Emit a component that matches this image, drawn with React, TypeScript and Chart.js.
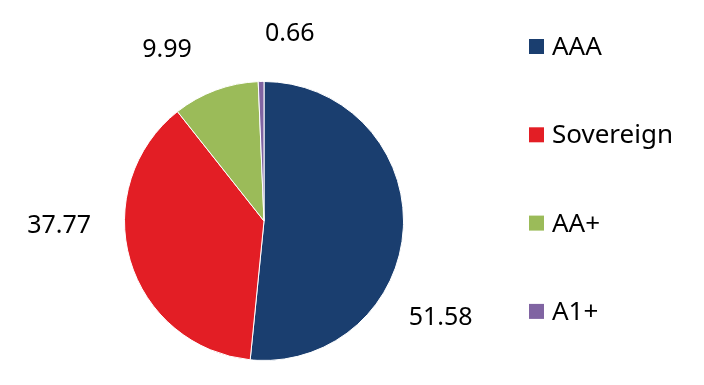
import React, { useEffect, useRef } from "react";
import { Chart, registerables } from "chart.js";

Chart.register(...registerables);

const categories = ["AAA", "Sovereign", "AA+", "A1+"];
const values = [51.58, 37.77, 9.99, 0.66];
const colors = ["#1a3e6f", "#e31e25", "#9bbb59", "#8064a2"];
const valueLabels = ["51.58", "37.77", "9.99", "0.66"];
// label nudges (px) from the default outside position, mimicking the reference placement
const labelNudges = [
  [-24, 87],
  [-12, -52],
  [-27, 17],
  [30, 14],
];

const FONT = "'Noto Sans', 'Open Sans', sans-serif";

const outsideLabels = {
  id: "outsideLabels",
  afterDatasetsDraw(chart: any) {
    const ctx = chart.ctx;
    const meta = chart.getDatasetMeta(0);
    ctx.save();
    ctx.font = `25px ${FONT}`;
    ctx.fillStyle = "#000";
    ctx.textAlign = "center";
    ctx.textBaseline = "middle";
    meta.data.forEach((arc: any, i: number) => {
      const { x, y, startAngle, endAngle, outerRadius } = arc.getProps(
        ["x", "y", "startAngle", "endAngle", "outerRadius"],
        true
      );
      const mid = (startAngle + endAngle) / 2;
      const r = outerRadius * 1.44;
      const lx = x + Math.cos(mid) * r + labelNudges[i][0];
      const ly = y + Math.sin(mid) * r + labelNudges[i][1];
      ctx.fillText(valueLabels[i], lx, ly);
    });
    ctx.restore();
  },
};

const sideLegend = {
  id: "sideLegend",
  afterDraw(chart: any) {
    const ctx = chart.ctx;
    const labels = chart.data.labels as string[];
    const bg = chart.data.datasets[0].backgroundColor as string[];
    const x0 = 529;
    const y0 = 46.5;
    const step = 88.3;
    const box = 15;
    ctx.save();
    ctx.font = `26px ${FONT}`;
    ctx.textAlign = "left";
    ctx.textBaseline = "middle";
    labels.forEach((lab, i) => {
      const cy = y0 + i * step;
      ctx.fillStyle = bg[i];
      ctx.fillRect(x0, cy - box / 2, box, box);
      ctx.fillStyle = "#000";
      ctx.fillText(lab, x0 + 23, cy + 1);
    });
    ctx.restore();
  },
};

export default function App() {
  const ref = useRef<HTMLCanvasElement | null>(null);
  useEffect(() => {
    if (!ref.current) return;
    const chart = new Chart(ref.current, {
      type: "pie",
      data: {
        labels: categories,
        datasets: [
          {
            data: values,
            backgroundColor: colors,
            borderColor: "#ffffff",
            borderWidth: 1,
          },
        ],
      },
      options: {
        responsive: false,
        animation: false,
        layout: { padding: { top: 81, bottom: 24, left: 124, right: 300 } },
        plugins: {
          legend: { display: false },
          tooltip: { enabled: false },
        },
      },
      plugins: [outsideLabels, sideLegend],
    });
    return () => chart.destroy();
  }, []);
  return (
    <div style={{ position: "absolute", left: 0, top: 0, width: 704, height: 385, background: "#fff" }}>
      <canvas ref={ref} width={704} height={385} />
    </div>
  );
}
